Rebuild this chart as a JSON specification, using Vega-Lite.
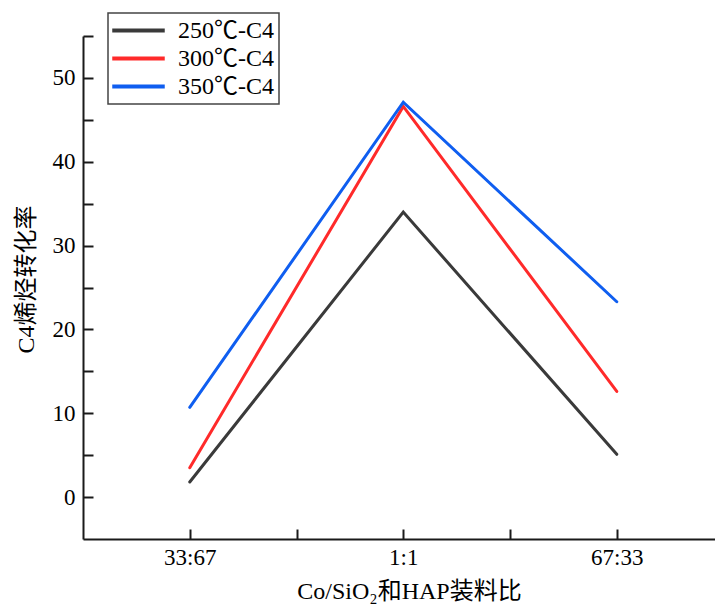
{
  "$schema": "https://vega.github.io/schema/vega-lite/v6.json",
  "width": 632,
  "height": 503,
  "autosize": {"type": "none"},
  "padding": {"left": 83, "top": 36, "right": 0, "bottom": 70},
  "background": "white",
  "data": {
    "values": [
      {"ratio": 1, "series": "250℃-C4", "value": 1.8},
      {"ratio": 2, "series": "250℃-C4", "value": 34.0},
      {"ratio": 3, "series": "250℃-C4", "value": 5.1},
      {"ratio": 1, "series": "300℃-C4", "value": 3.5},
      {"ratio": 2, "series": "300℃-C4", "value": 46.6},
      {"ratio": 3, "series": "300℃-C4", "value": 12.6},
      {"ratio": 1, "series": "350℃-C4", "value": 10.7},
      {"ratio": 2, "series": "350℃-C4", "value": 47.1},
      {"ratio": 3, "series": "350℃-C4", "value": 23.3}
    ]
  },
  "mark": {"type": "line", "strokeWidth": 3, "strokeCap": "round", "strokeJoin": "miter"},
  "encoding": {
    "x": {
      "field": "ratio",
      "type": "quantitative",
      "scale": {"domain": [0.5, 3.46], "nice": false, "zero": false},
      "axis": {
        "title": "Co/SiO₂和HAP装料比",
        "values": [1, 1.5, 2, 2.5, 3],
        "labelExpr": "datum.value == 1 ? '33:67' : datum.value == 2 ? '1:1' : datum.value == 3 ? '67:33' : ''",
        "grid": false,
        "tickSize": -10,
        "labelPadding": 17,
        "titlePadding": 10,
        "titleX": 326,
        "encode": {"ticks": {"update": {"y2": {"signal": "datum.value % 1 != 0 ? -5 : -10"}}}}
      }
    },
    "y": {
      "field": "value",
      "type": "quantitative",
      "scale": {"domain": [-5, 55], "nice": false, "zero": false},
      "axis": {
        "title": "C4烯烃转化率",
        "values": [0, 5, 10, 15, 20, 25, 30, 35, 40, 45, 50, 55],
        "labelExpr": "datum.value % 10 == 0 ? datum.label : ''",
        "grid": false,
        "tickSize": -10,
        "labelPadding": 18,
        "titlePadding": 14,
        "titleY": 243,
        "encode": {"ticks": {"update": {"x2": {"signal": "datum.value % 10 != 0 ? 5 : 10"}}}}
      }
    },
    "color": {
      "field": "series",
      "type": "nominal",
      "scale": {
        "domain": ["250℃-C4", "300℃-C4", "350℃-C4"],
        "range": ["#3a3a3a", "#ff2a2a", "#0f5ef0"]
      },
      "legend": {
        "title": null,
        "orient": "none",
        "legendX": 25,
        "legendY": -23,
        "symbolType": "M-2.5,0L2.5,0",
        "symbolSize": 441,
        "symbolStrokeWidth": 4,
        "symbolOffset": 13,
        "labelOffset": 27,
        "rowPadding": 3,
        "padding": 5,
        "strokeColor": "#444444",
        "fillColor": "white",
        "labelFont": "Liberation Serif, Noto Sans CJK SC",
        "labelFontSize": 24,
        "labelColor": "black",
        "labelExpr": "datum.label + '\u00a0\u00a0\u00a0'",
        "encode": {"legend": {"update": {"strokeWidth": {"value": 1.5}}}}
      }
    }
  },
  "config": {
    "view": {"stroke": null},
    "axis": {
      "domainColor": "#1a1a1a",
      "domainWidth": 2,
      "tickColor": "#1a1a1a",
      "tickWidth": 2,
      "labelFont": "Liberation Serif",
      "labelFontSize": 23,
      "labelColor": "black",
      "titleFont": "Liberation Serif, Noto Sans CJK SC",
      "titleFontSize": 24,
      "titleFontWeight": "normal",
      "titleColor": "black"
    }
  }
}
